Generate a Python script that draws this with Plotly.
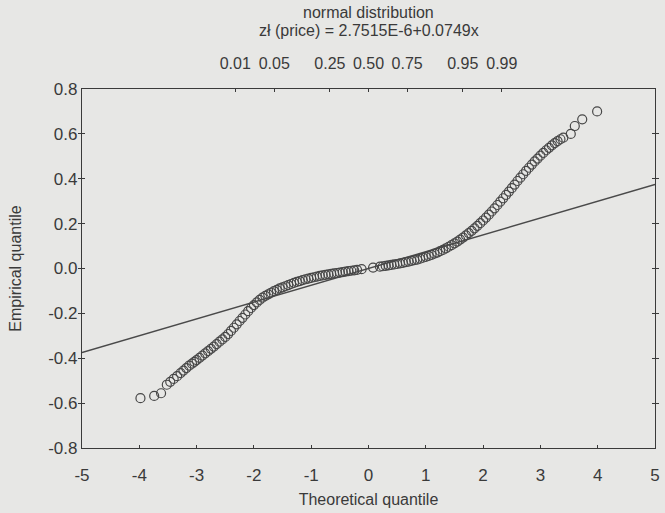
import plotly.graph_objects as go
from statistics import NormalDist

# ---- data ----
theoretical_q = [
    -3.98, -3.74, -3.62, -3.52, -3.46, -3.40, -3.34, -3.28, -3.23, -3.18, -3.13, -3.08, -3.04, -3.00,
    -2.95, -2.90, -2.85, -2.80, -2.75, -2.70, -2.65, -2.60, -2.55, -2.50,
    -2.45, -2.40, -2.35, -2.30, -2.25, -2.20, -2.15, -2.10, -2.05, -2.00,
    -1.95, -1.90, -1.85, -1.80, -1.75, -1.70, -1.65, -1.60, -1.55, -1.50,
    -1.45, -1.40, -1.35, -1.30, -1.25, -1.20, -1.15, -1.10, -1.05, -1.00,
    -0.95, -0.90, -0.85, -0.80, -0.75, -0.70, -0.65, -0.60, -0.55, -0.50,
    -0.45, -0.40, -0.35, -0.30, -0.25, -0.20, -0.12, 0.08,
    0.20, 0.25, 0.30, 0.35, 0.40, 0.45, 0.50, 0.55, 0.60, 0.65,
    0.70, 0.75, 0.80, 0.85, 0.90, 0.95, 1.00, 1.05, 1.10, 1.15,
    1.20, 1.25, 1.30, 1.35, 1.40, 1.45, 1.50, 1.55, 1.60, 1.65,
    1.70, 1.75, 1.80, 1.85, 1.90, 1.95, 2.00, 2.05, 2.10, 2.15,
    2.20, 2.25, 2.30, 2.35, 2.40, 2.45, 2.50, 2.55, 2.60, 2.65,
    2.70, 2.75, 2.80, 2.85, 2.90, 2.95, 3.00, 3.05, 3.10, 3.15,
    3.20, 3.25, 3.30, 3.35, 3.40, 3.53, 3.60, 3.73, 3.99,
]
empirical_q = [
    -0.578, -0.568, -0.556, -0.518, -0.505, -0.492, -0.480, -0.466, -0.455, -0.444, -0.433, -0.424, -0.416, -0.408,
    -0.398, -0.388, -0.378, -0.368, -0.358, -0.348, -0.337, -0.326, -0.316, -0.305,
    -0.292, -0.278, -0.264, -0.249, -0.234, -0.220, -0.205, -0.190, -0.176, -0.163,
    -0.151, -0.140, -0.130, -0.122, -0.115, -0.108, -0.101, -0.095, -0.089, -0.084,
    -0.079, -0.074, -0.069, -0.064, -0.060, -0.056, -0.052, -0.048, -0.045, -0.042,
    -0.039, -0.036, -0.033, -0.031, -0.028, -0.026, -0.024, -0.022, -0.020, -0.018,
    -0.016, -0.014, -0.012, -0.010, -0.008, -0.006, -0.003, 0.004,
    0.008, 0.010, 0.012, 0.014, 0.016, 0.018, 0.020, 0.023, 0.025, 0.028,
    0.031, 0.034, 0.037, 0.040, 0.044, 0.048, 0.052, 0.056, 0.061, 0.066,
    0.071, 0.077, 0.083, 0.090, 0.097, 0.104, 0.112, 0.120, 0.129, 0.138,
    0.148, 0.158, 0.168, 0.179, 0.190, 0.202, 0.214, 0.227, 0.240, 0.254,
    0.268, 0.283, 0.298, 0.313, 0.328, 0.343, 0.358, 0.374, 0.390, 0.405,
    0.420, 0.435, 0.449, 0.463, 0.477, 0.490, 0.503, 0.515, 0.527, 0.538,
    0.549, 0.559, 0.568, 0.576, 0.583, 0.600, 0.635, 0.665, 0.700,
]
fit_intercept = 2.7515e-6
fit_slope = 0.0749
x_ticks = [-5, -4, -3, -2, -1, 0, 1, 2, 3, 4, 5]
y_ticks = [-0.8, -0.6, -0.4, -0.2, 0.0, 0.2, 0.4, 0.6, 0.8]
y_tick_labels = ["-0.8", "-0.6", "-0.4", "-0.2", "0.0", "0.2", "0.4", "0.6", "0.8"]
prob_labels = ["0.01", "0.05", "0.25", "0.50", "0.75", "0.95", "0.99"]

x_range = [-5, 5]
y_range = [-0.8, 0.8]

FONT = "Liberation Sans Narrow, Arial Narrow, Liberation Sans, Arial, sans-serif"
INK = "#3a3a3a"
BG = "#e7e7e5"

prob_pos = [NormalDist().inv_cdf(float(p)) for p in prob_labels]

fig = go.Figure()
fig.add_trace(go.Scatter(
    x=x_range,
    y=[fit_intercept + fit_slope * v for v in x_range],
    mode="lines", line=dict(color="#4a4a4a", width=1.4),
    hoverinfo="skip", showlegend=False,
))
fig.add_trace(go.Scatter(
    x=theoretical_q, y=empirical_q, mode="markers",
    marker=dict(symbol="circle-open", size=9, color="#474747", line=dict(width=1.2)),
    showlegend=False,
))
# invisible trace for the top probability axis
fig.add_trace(go.Scatter(x=x_range, y=[0, 0], xaxis="x2", mode="markers",
                         marker=dict(opacity=0), hoverinfo="skip", showlegend=False))

fig.update_layout(
    width=665, height=513,
    margin=dict(l=82, r=5, t=89, b=65),
    paper_bgcolor=BG, plot_bgcolor=BG,
    font=dict(family=FONT, size=16, color=INK),
    xaxis=dict(range=x_range, tickvals=x_ticks, ticktext=[str(t) for t in x_ticks],
               showgrid=False, zeroline=False, showline=True, linecolor=INK, linewidth=1.3,
               mirror=True, ticks="inside", ticklen=3, tickcolor=INK,
               ticklabelstandoff=11,
               title=dict(text="Theoretical quantile", font=dict(size=16), standoff=10),
               tickfont=dict(size=17)),
    xaxis2=dict(range=x_range, overlaying="x", side="top", anchor="y",
                tickvals=prob_pos, ticktext=prob_labels, showgrid=False, zeroline=False,
                ticks="inside", ticklen=3, tickcolor=INK, showline=False,
                ticklabelstandoff=16,
                tickfont=dict(size=16)),
    yaxis=dict(range=y_range, tickvals=y_ticks, ticktext=y_tick_labels,
               showgrid=False, zeroline=False, showline=True, linecolor=INK, linewidth=1.3,
               mirror="allticks", ticks="inside", ticklen=3, tickcolor=INK,
               title=dict(text="Empirical quantile", font=dict(size=16), standoff=22),
               tickfont=dict(size=17)),
    annotations=[
        dict(text="normal distribution", xref="paper", yref="paper", x=0.5, y=1.212,
             showarrow=False, font=dict(size=16, color=INK), yanchor="middle"),
        dict(text="zł (price) = 2.7515E-6+0.0749x", xref="paper", yref="paper", x=0.5, y=1.163,
             showarrow=False, font=dict(size=16, color=INK), yanchor="middle"),
    ],
)

fig.write_html("out.html")
